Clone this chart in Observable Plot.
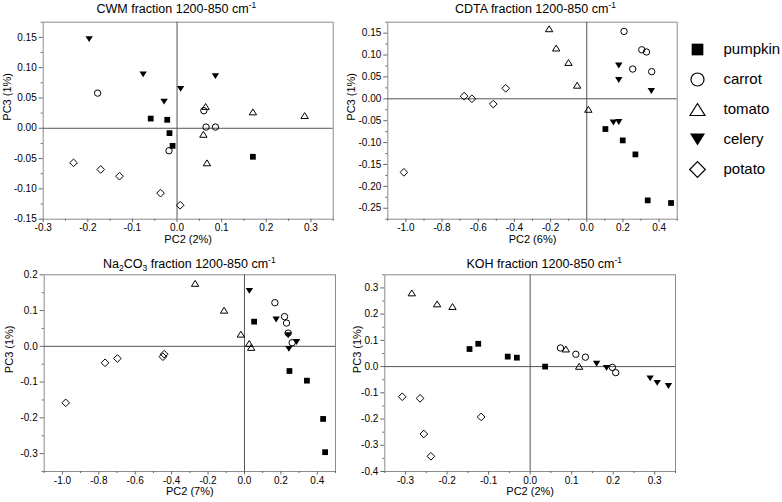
<!DOCTYPE html>
<html><head><meta charset="utf-8">
<script src="https://cdn.jsdelivr.net/npm/d3@7"></script>
<script src="https://cdn.jsdelivr.net/npm/@observablehq/plot@0.6"></script>
<style>
html,body{margin:0;padding:0;background:#fff;}
#chart{position:relative;width:782px;height:502px;overflow:hidden;background:#fff;font-family:"Liberation Sans",Arial,sans-serif;}
#chart > svg{position:absolute;}
</style></head><body><div id="chart"></div>
<script>
// ---------- data ----------
const vegetables = ["pumpkin", "carrot", "tomato", "celery", "potato"];

// CWM fraction  [PC2, PC3]
const cwmPumpkin = [[-0.059,0.016],[-0.022,0.014],[-0.017,-0.008],[-0.010,-0.029],[0.170,-0.047]];
const cwmCarrot  = [[-0.178,0.058],[0.060,0.029],[0.065,0.002],[0.086,0.002],[-0.018,-0.037]];
const cwmTomato  = [[0.064,0.036],[0.170,0.027],[0.286,0.021],[0.059,-0.010],[0.067,-0.057]];
const cwmCelery  = [[-0.197,0.147],[-0.076,0.089],[-0.029,0.044],[0.008,0.065],[0.086,0.086]];
const cwmPotato  = [[-0.232,-0.057],[-0.171,-0.068],[-0.129,-0.079],[-0.037,-0.107],[0.007,-0.127]];

// CDTA fraction
const cdtaPumpkin = [[0.103,-0.069],[0.199,-0.095],[0.269,-0.127],[0.337,-0.232],[0.466,-0.238]];
const cdtaCarrot  = [[0.206,0.154],[0.304,0.112],[0.330,0.107],[0.254,0.068],[0.359,0.062]];
const cdtaTomato  = [[-0.208,0.160],[-0.169,0.116],[-0.101,0.083],[-0.053,0.031],[0.009,-0.024]];
const cdtaCelery  = [[0.177,0.076],[0.177,0.043],[0.357,0.018],[0.147,-0.054],[0.177,-0.053]];
const cdtaPotato  = [[-1.011,-0.168],[-0.678,0.006],[-0.635,0.000],[-0.517,-0.012],[-0.448,0.024]];

// Na2CO3 fraction
const naPumpkin = [[0.053,0.069],[0.247,-0.069],[0.343,-0.096],[0.432,-0.203],[0.443,-0.296]];
const naCarrot  = [[0.167,0.122],[0.220,0.083],[0.231,0.065],[0.240,0.037],[0.262,0.010]];
const naTomato  = [[-0.271,0.176],[-0.112,0.101],[-0.020,0.034],[0.026,0.008],[0.037,-0.003]];
const naCelery  = [[0.027,0.155],[0.174,0.075],[0.240,0.031],[0.286,0.012],[0.244,-0.007]];
const naPotato  = [[-0.982,-0.158],[-0.766,-0.046],[-0.698,-0.034],[-0.441,-0.022],[-0.448,-0.029]];

// KOH fraction
const kohPumpkin = [[-0.146,0.067],[-0.125,0.087],[-0.054,0.038],[-0.032,0.034],[0.036,0.000]];
const kohCarrot  = [[0.073,0.071],[0.110,0.047],[0.133,0.036],[0.198,-0.003],[0.206,-0.023]];
const kohTomato  = [[-0.285,0.281],[-0.224,0.239],[-0.187,0.229],[0.086,0.067],[0.118,0.001]];
const kohCelery  = [[0.160,0.011],[0.184,-0.005],[0.289,-0.045],[0.306,-0.062],[0.333,-0.074]];
const kohPotato  = [[-0.308,-0.115],[-0.265,-0.121],[-0.256,-0.257],[-0.239,-0.342],[-0.118,-0.192]];

// ticks
const cwmXTicks = [-0.3,-0.2,-0.1,0,0.1,0.2,0.3];
const cwmXMinor = [-0.25,-0.15,-0.05,0.05,0.15,0.25,0.35];
const cwmYTicks = [-0.15,-0.10,-0.05,0,0.05,0.10,0.15];
const cwmYMinor = [-0.125,-0.075,-0.025,0.025,0.075,0.125,0.175];
const wideXTicks = [-1.0,-0.8,-0.6,-0.4,-0.2,0,0.2,0.4];
const wideXMinor = [-1.1,-0.9,-0.7,-0.5,-0.3,-0.1,0.1,0.3,0.5];
const cdtaYTicks = [-0.25,-0.20,-0.15,-0.10,-0.05,0,0.05,0.10,0.15];
const cdtaYMinor = [-0.275,-0.225,-0.175,-0.125,-0.075,-0.025,0.025,0.075,0.125,0.175];
const naYTicks = [-0.3,-0.2,-0.1,0,0.1,0.2];
const naYMinor = [-0.35,-0.25,-0.15,-0.05,0.05,0.15];
const kohXTicks = [-0.3,-0.2,-0.1,0,0.1,0.2,0.3];
const kohXMinor = [-0.35,-0.25,-0.15,-0.05,0.05,0.15,0.25,0.35];
const kohYTicks = [-0.4,-0.3,-0.2,-0.1,0,0.1,0.2,0.3];
const kohYMinor = [-0.35,-0.25,-0.15,-0.05,0.05,0.15,0.25,0.35];

const cwmTitle  = [["CWM fraction 1200-850 cm",""],["-1","sup"]];
const cdtaTitle = [["CDTA fraction 1200-850 cm",""],["-1","sup"]];
const naTitle   = [["Na",""],["2","sub"],["CO",""],["3","sub"],[" fraction 1200-850 cm",""],["-1","sup"]];
const kohTitle  = [["KOH fraction 1200-850 cm",""],["-1","sup"]];

// ---------- symbols ----------
const rad = size => Math.sqrt(size / Math.PI);
const symSquare = {draw(c, size){const s = rad(size)*0.9; c.moveTo(-s,-s); c.lineTo(s,-s); c.lineTo(s,s); c.lineTo(-s,s); c.closePath();}};
const symCircle = {draw(c, size){const r = rad(size); c.moveTo(r,0); c.arc(0,0,r,0,2*Math.PI); c.closePath();}};
const symTriUp = {draw(c, size){const w = rad(size)*1.15, h = w*1.6; c.moveTo(0,-h/2); c.lineTo(w,h/2); c.lineTo(-w,h/2); c.closePath();}};
const symTriDown = {draw(c, size){const w = rad(size)*1.15, h = w*1.6; c.moveTo(0,h/2); c.lineTo(w,-h/2); c.lineTo(-w,-h/2); c.closePath();}};
const symDiamond = {draw(c, size){const s = rad(size)*1.2; c.moveTo(0,-s); c.lineTo(s,0); c.lineTo(0,s); c.lineTo(-s,0); c.closePath();}};
const look = {
  pumpkin: {symbol: symSquare, fill: "black", stroke: "none"},
  carrot: {symbol: symCircle, fill: "none", stroke: "black"},
  tomato: {symbol: symTriUp, fill: "none", stroke: "black"},
  celery: {symbol: symTriDown, fill: "black", stroke: "none"},
  potato: {symbol: symDiamond, fill: "none", stroke: "black"}
};

const FONT = "'Liberation Sans', Arial, sans-serif";
const fmt = f => d => d3.format(f)(d).replace("\u2212", "-");
const chart = document.getElementById("chart");

const panels = [
  {series: {pumpkin: cwmPumpkin, carrot: cwmCarrot, tomato: cwmTomato, celery: cwmCelery, potato: cwmPotato},
   xDomain: [-0.3, 0.35], yDomain: [-0.15, 0.175], xTicks: cwmXTicks, xMinor: cwmXMinor, yTicks: cwmYTicks, yMinor: cwmYMinor,
   xFmt: ".1f", yFmt: ".2f", xLabel: "PC2 (2%)", yLabel: "PC3 (1%)", yLabelDx: -36,
   left: 0, top: 0, width: 343, height: 250, mL: 42.7, mR: 10.3, mT: 21.7, mB: 31.3},
  {series: {pumpkin: cdtaPumpkin, carrot: cdtaCarrot, tomato: cdtaTomato, celery: cdtaCelery, potato: cdtaPotato},
   xDomain: [-1.1, 0.5], yDomain: [-0.275, 0.175], xTicks: wideXTicks, xMinor: wideXMinor, yTicks: cdtaYTicks, yMinor: cdtaYMinor,
   xFmt: ".1f", yFmt: ".2f", xLabel: "PC2 (6%)", yLabel: "PC3 (1%)", yLabelDx: -36.5,
   left: 343, top: 0, width: 342, height: 250, mL: 44.3, mR: 8.3, mT: 21.7, mB: 31.3},
  {series: {pumpkin: naPumpkin, carrot: naCarrot, tomato: naTomato, celery: naCelery, potato: naPotato},
   xDomain: [-1.1, 0.5], yDomain: [-0.35, 0.2], xTicks: wideXTicks, xMinor: wideXMinor, yTicks: naYTicks, yMinor: naYMinor,
   xFmt: ".1f", yFmt: ".1f", xLabel: "PC2 (7%)", yLabel: "PC3 (1%)", yLabelDx: -35,
   left: 0, top: 250, width: 343, height: 252, mL: 43.7, mR: 8, mT: 24.3, mB: 31},
  {series: {pumpkin: kohPumpkin, carrot: kohCarrot, tomato: kohTomato, celery: kohCelery, potato: kohPotato},
   xDomain: [-0.35, 0.35], yDomain: [-0.4, 0.35], xTicks: kohXTicks, xMinor: kohXMinor, yTicks: kohYTicks, yMinor: kohYMinor,
   xFmt: ".1f", yFmt: ".1f", xLabel: "PC2 (2%)", yLabel: "PC3 (1%)", yLabelDx: -27,
   left: 343, top: 250, width: 342, height: 252, mL: 41.3, mR: 10, mT: 24.3, mB: 31}
];

for (const p of panels) {
  const svg = Plot.plot({
    width: p.width, height: p.height,
    marginLeft: p.mL, marginRight: p.mR, marginTop: p.mT, marginBottom: p.mB,
    x: {domain: p.xDomain}, y: {domain: p.yDomain},
    style: {fontFamily: FONT, fontSize: "10px", background: "transparent", color: "black", overflow: "visible"},
    marks: [
      Plot.frame({stroke: "#8c8c8c"}),
      Plot.ruleX([0], {stroke: "#555"}),
      Plot.ruleY([0], {stroke: "#555"}),
      Plot.axisX(p.xMinor, {tickSize: 2, tickFormat: () => "", label: null, stroke: "#666"}),
      Plot.axisX(p.xTicks, {tickSize: 3.5, tickPadding: 1.5, tickFormat: fmt(p.xFmt), label: null, stroke: "#666"}),
      Plot.axisY(p.yMinor, {tickSize: 2, tickFormat: () => "", label: null, stroke: "#666"}),
      Plot.axisY(p.yTicks, {tickSize: 4, tickPadding: 2.5, tickFormat: fmt(p.yFmt), label: null, stroke: "#666"}),
      Plot.text([p.xLabel], {text: d => d, frameAnchor: "bottom", dy: 23.5, fontSize: 11}),
      Plot.text([p.yLabel], {text: d => d, frameAnchor: "left", rotate: -90, dx: p.yLabelDx, fontSize: 11}),
      ...vegetables.map(v => Plot.dot(p.series[v], {
        x: d => d[0], y: d => d[1], r: 3.2,
        symbol: look[v].symbol, fill: look[v].fill, stroke: look[v].stroke, strokeWidth: 1
      }))
    ]
  });
  svg.style.left = p.left + "px";
  svg.style.top = p.top + "px";
  chart.appendChild(svg);
}

// legend
const legend = Plot.plot({
  width: 97, height: 250, margin: 0,
  y: {type: "point", domain: vegetables, range: [31.7, 185.7]},
  axis: null,
  style: {fontFamily: FONT, background: "transparent", color: "black"},
  marks: [
    ...vegetables.map(v => Plot.dot([v], {y: d => d, frameAnchor: "left", dx: 12, r: 6.5,
      symbol: look[v].symbol, fill: look[v].fill, stroke: look[v].stroke, strokeWidth: 1.2})),
    Plot.text(vegetables, {y: d => d, text: d => d, frameAnchor: "left", dx: 38, textAnchor: "start", fontSize: 15})
  ]
});
legend.style.left = "685px";
legend.style.top = "0px";
chart.appendChild(legend);

// titles (with super/subscripts)
const titleLayer = d3.select(chart).append("svg")
  .attr("width", 782).attr("height", 502)
  .style("left", "0px").style("top", "0px").style("pointer-events", "none");
const titlePlaces = [
  {parts: cwmTitle, x: 96.5, y: 12.7},
  {parts: cdtaTitle, x: 455, y: 12.7},
  {parts: naTitle, x: 103, y: 267.5},
  {parts: kohTitle, x: 466.5, y: 267.5}
];
for (const t of titlePlaces) {
  const txt = titleLayer.append("text").attr("x", t.x).attr("y", t.y)
    .attr("font-family", FONT).attr("font-size", 12.5).attr("fill", "black");
  let shift = 0;
  for (const [s, kind] of t.parts) {
    const target = kind === "sup" ? -5 : kind === "sub" ? 3 : 0;
    txt.append("tspan").attr("dy", target - shift)
      .attr("font-size", kind ? 8.5 : 12.5).text(s);
    shift = target;
  }
}
</script></body></html>
